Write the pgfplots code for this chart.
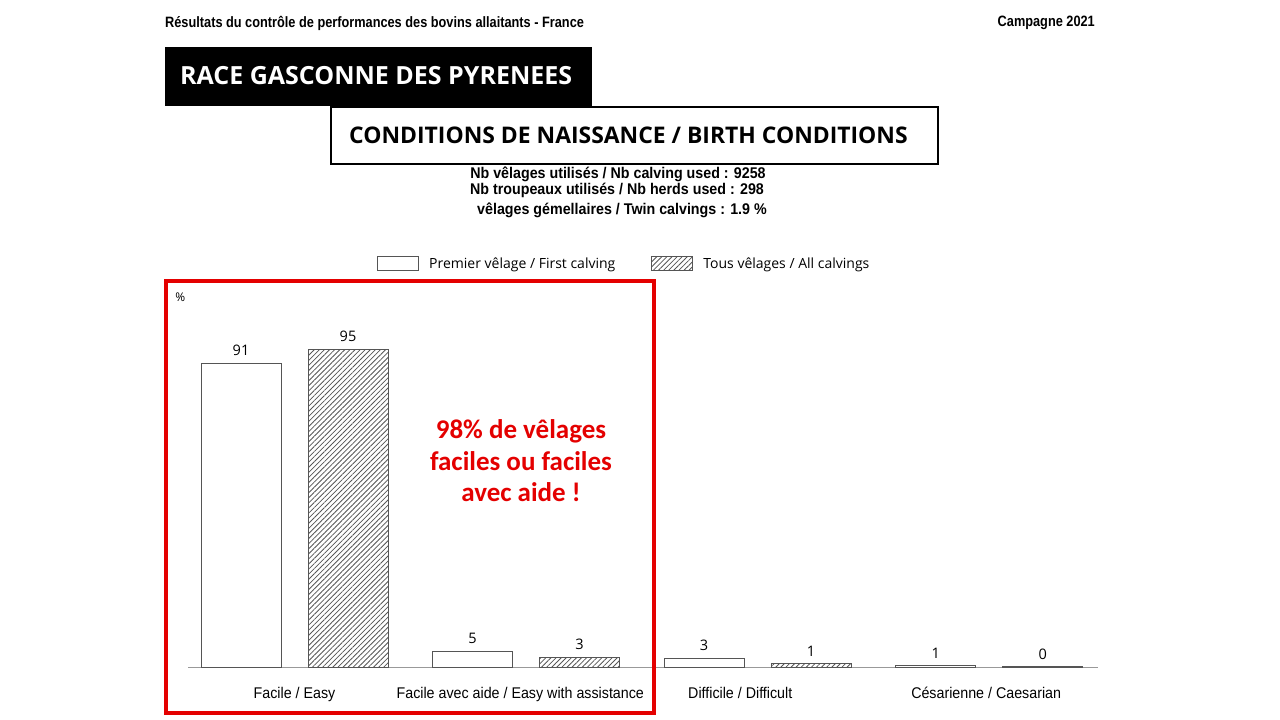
\documentclass[border=0pt]{standalone}
\usepackage{pgfplots}
\pgfplotsset{compat=1.18}
\usepackage{pgfplotstable}
\usetikzlibrary{patterns.meta}
\usepackage{fontspec}
\setmainfont{Open Sans}
\newfontfamily\narrowfont[FakeStretch=0.85]{Liberation Sans}
\newfontfamily\semifont[FakeStretch=0.92]{Liberation Sans}
\newfontfamily\calibri{Carlito}
\definecolor{redbox}{RGB}{228,0,0}
\definecolor{barline}{RGB}{85,85,85}
\pgfplotstableread{
x y lab
0 91 91
1 5 5
2 2.7 3
3 0.6 1
}\first
\pgfplotstableread{
x y lab
0 95 95
1 3 3
2 1.2 1
3 0.3 0
}\all
\begin{document}
\begin{tikzpicture}[x=1pt,y=1pt]
\path[use as bounding box, fill=white] (0,0) rectangle (1280,720);
% header
\node[anchor=west, inner sep=0, font=\narrowfont\bfseries\fontsize{15}{17}\selectfont] at (165,697) {Résultats du contrôle de performances des bovins allaitants - France};
\node[anchor=east, inner sep=0, font=\narrowfont\bfseries\fontsize{15}{17}\selectfont] at (1095,697) {Campagne 2021};
% black box
\fill[black] (165,614) rectangle (592,673);
\node[anchor=west, inner sep=0, text=white, font=\bfseries\fontsize{25}{29}\selectfont] at (180,644) {RACE GASCONNE DES PYRENEES};
% title box
\draw[line width=2pt, fill=white] (331,556) rectangle (938,613);
\node[anchor=west, inner sep=0, font=\bfseries\fontsize{22.9}{27}\selectfont] at (349,585) {CONDITIONS DE NAISSANCE / BIRTH CONDITIONS};
% stats
\node[anchor=center, inner sep=0, font=\semifont\bfseries\fontsize{15.5}{18}\selectfont] at (618,546) {Nb vêlages utilisés / Nb calving used : 9258};
\node[anchor=center, inner sep=0, font=\semifont\bfseries\fontsize{15.5}{18}\selectfont] at (617,530) {Nb troupeaux utilisés / Nb herds used : 298};
\node[anchor=center, inner sep=0, font=\semifont\bfseries\fontsize{15.5}{18}\selectfont] at (622,510) {vêlages gémellaires / Twin calvings : 1.9 \%};

\begin{axis}[
  at={(188pt,52pt)}, anchor=south west,
  scale only axis, width=910pt, height=372pt,
  xmin=-0.46, xmax=3.47, ymin=0, ymax=111,
  axis x line*=bottom, axis y line=none,
  x axis line style={-, draw=gray!80, line width=1pt},
  ybar=27pt, bar width=80pt,
  xtick={0,0.975,1.925,2.987},
  xticklabels={Facile / Easy, Facile avec aide / Easy with assistance, Difficile / Difficult, Césarienne / Caesarian},
  xticklabel style={font=\semifont\fontsize{15.5}{18}\selectfont, yshift=-16pt},
  major tick length=0pt,
  clip=false,
  nodes near coords,
  point meta=explicit symbolic,
  every node near coord/.append style={font=\fontsize{14.5}{16}\selectfont, yshift=4pt},
  legend columns=2,
  legend style={at={(0.2077,1.087)}, anchor=west, draw=none, fill=none, inner sep=0pt,
     font=\fontsize{14}{16}\selectfont,
     /tikz/every even column/.append style={column sep=34pt}},
  legend cell align=left,
  legend image code/.code={\draw[#1] (0pt,-7pt) rectangle (41pt,7pt); \path (49pt,0pt);},
]
\addplot[draw=barline, line width=1pt, fill=white] table[x=x, y=y, meta=lab] {\first};
\addlegendentry{Premier vêlage / First calving}
\addplot[draw=barline, line width=1pt,
   pattern={Lines[angle=45, distance=3.6pt, line width=0.8pt]}, pattern color=barline] table[x=x, y=y, meta=lab] {\all};
\addlegendentry{Tous vêlages / All calvings}
\node[anchor=south west, inner sep=0, font=\fontsize{12}{14}\selectfont] at (axis description cs:-0.014,0.985) {\%};
\end{axis}

% red annotation
\draw[redbox, line width=3.5pt] (166,7) rectangle (654,439);
\node[align=center, text=redbox, font=\calibri\bfseries\fontsize{27}{31.5}\selectfont] at (521,259) {98\% de vêlages\\faciles ou faciles\\avec aide !};
\end{tikzpicture}
\end{document}
